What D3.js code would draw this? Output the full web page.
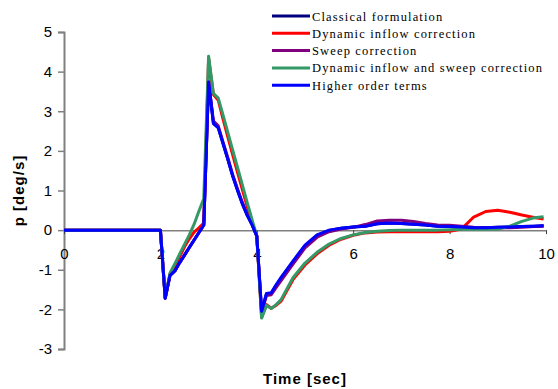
<!DOCTYPE html>
<html>
<head>
<meta charset="utf-8">
<script src="https://cdn.jsdelivr.net/npm/d3@7"></script>
<style>
  body { margin: 0; background: #fff; }
  svg { display: block; }
</style>
</head>
<body>
<svg id="chart" width="558" height="389"></svg>
<script>
// ---- data ----
const time = [0, 2.0, 2.1, 2.2, 2.3, 2.4, 2.5, 2.6, 2.7, 2.8, 2.9, 3.0, 3.1, 3.2, 3.3, 3.4, 3.5, 3.6, 3.7, 3.8, 3.9, 4.0, 4.1, 4.2, 4.3, 4.4, 4.5, 4.75, 5.0, 5.25, 5.5, 5.75, 6.0, 6.25, 6.5, 6.75, 7.0, 7.25, 7.5, 7.75, 8.0, 8.25, 8.5, 8.75, 9.0, 9.25, 9.5, 9.75, 9.95];

const classical = [0, 0, -1.72, -1.14, -1.03, -0.82, -0.63, -0.44, -0.25, -0.06, 0.13, 3.74, 2.7, 2.59, 2.19, 1.79, 1.37, 1.01, 0.67, 0.38, 0.14, -0.15, -2.05, -1.61, -1.59, -1.4, -1.22, -0.8, -0.4, -0.13, -0.01, 0.05, 0.08, 0.1, 0.16, 0.18, 0.17, 0.15, 0.13, 0.1, 0.09, 0.08, 0.06, 0.06, 0.07, 0.08, 0.09, 0.1, 0.11];
const dynInflow = [0, 0, -1.7, -1.1, -0.9, -0.67, -0.42, -0.22, -0.05, 0.06, 0.18, 4.33, 3.42, 3.28, 2.8, 2.35, 1.9, 1.46, 1.02, 0.6, 0.2, -0.15, -2.2, -1.88, -1.97, -1.9, -1.8, -1.25, -0.88, -0.6, -0.38, -0.23, -0.13, -0.07, -0.05, -0.04, -0.04, -0.04, -0.04, -0.04, -0.03, 0.03, 0.33, 0.47, 0.5, 0.45, 0.38, 0.32, 0.28];
const sweep = [0, 0, -1.72, -1.14, -1.03, -0.82, -0.63, -0.44, -0.25, -0.06, 0.13, 3.74, 2.75, 2.63, 2.22, 1.82, 1.4, 1.04, 0.7, 0.4, 0.16, -0.15, -2.08, -1.65, -1.63, -1.45, -1.28, -0.86, -0.45, -0.18, -0.04, 0.03, 0.07, 0.14, 0.23, 0.25, 0.25, 0.22, 0.17, 0.13, 0.12, 0.1, 0.07, 0.06, 0.06, 0.06, 0.07, 0.09, 0.1];
const dynSweep = [0, 0, -1.7, -1.08, -0.85, -0.6, -0.36, -0.12, 0.15, 0.48, 0.8, 4.39, 3.45, 3.33, 2.9, 2.46, 2.02, 1.58, 1.14, 0.7, 0.27, -0.15, -2.22, -1.9, -1.98, -1.88, -1.76, -1.2, -0.83, -0.56, -0.35, -0.21, -0.12, -0.06, -0.03, -0.01, 0, 0, 0, 0, 0.01, 0.02, 0.02, 0.02, 0.03, 0.1, 0.22, 0.31, 0.34];
const higherOrder = [0, 0, -1.72, -1.14, -1.03, -0.82, -0.63, -0.44, -0.25, -0.06, 0.13, 3.74, 2.69, 2.58, 2.18, 1.78, 1.36, 1.0, 0.66, 0.38, 0.14, -0.15, -2.05, -1.6, -1.58, -1.38, -1.2, -0.78, -0.38, -0.12, 0.0, 0.05, 0.08, 0.1, 0.16, 0.18, 0.17, 0.15, 0.13, 0.1, 0.09, 0.08, 0.06, 0.06, 0.07, 0.08, 0.09, 0.1, 0.11];

const seriesNames = ["Classical formulation", "Dynamic inflow correction", "Sweep correction", "Dynamic inflow and sweep correction", "Higher order terms"];
const seriesValues = [classical, dynInflow, sweep, dynSweep, higherOrder];
const seriesColors = ["#000080", "#FF0000", "#800080", "#339966", "#0000FF"];

const xTicks = [0, 2, 4, 6, 8, 10];
const yTicks = [-3, -2, -1, 0, 1, 2, 3, 4, 5];
const xTitle = "Time [sec]";
const yTitle = "p [deg/s]";

// ---- drawing ----
const svg = d3.select("#chart");
const x = d3.scaleLinear().domain([0, 10]).range([64, 546]);
const y = d3.scaleLinear().domain([-3, 5]).range([349, 32]);
const plain = d => String(d);

// y axis
const yAxis = svg.append("g")
  .attr("transform", `translate(${x(0)},0)`)
  .call(d3.axisLeft(y).tickValues(yTicks).tickSize(6).tickPadding(6).tickFormat(plain));
yAxis.select(".domain").attr("stroke", "#808080").attr("stroke-width", 2);
yAxis.selectAll(".tick line").attr("stroke", "#808080").attr("stroke-width", 1.5);
yAxis.selectAll(".tick text")
  .attr("font-family", "Liberation Sans, Arial, sans-serif")
  .attr("font-size", 15).attr("fill", "#000");

// x axis at y = 0
const xAxis = svg.append("g")
  .attr("transform", `translate(0,${y(0)})`)
  .call(d3.axisBottom(x).tickValues(xTicks).tickSize(4).tickSizeOuter(0).tickPadding(14).tickFormat(plain));
xAxis.select(".domain").attr("stroke", "#808080").attr("stroke-width", 1.5);
xAxis.selectAll(".tick line").attr("stroke", "#404040").attr("stroke-width", 1);
xAxis.selectAll(".tick text")
  .attr("font-family", "Liberation Sans, Arial, sans-serif")
  .attr("font-size", 15).attr("fill", "#000");

// lines
const line = d3.line().x((d, i) => x(time[i])).y(d => y(d));
seriesValues.forEach((vals, k) => {
  svg.append("path")
    .datum(vals)
    .attr("d", line)
    .attr("fill", "none")
    .attr("stroke", seriesColors[k])
    .attr("stroke-width", 3)
    .attr("stroke-linejoin", "round");
});

// axis titles
svg.append("text")
  .attr("x", x(5)).attr("y", 384)
  .attr("text-anchor", "middle")
  .attr("font-family", "Liberation Sans, Arial, sans-serif")
  .attr("font-weight", "bold").attr("font-size", 15)
  .attr("letter-spacing", 1)
  .text(xTitle);
svg.append("text")
  .attr("transform", `translate(24,${(y(-3) + y(5)) / 2}) rotate(-90)`)
  .attr("text-anchor", "middle")
  .attr("font-family", "Liberation Sans, Arial, sans-serif")
  .attr("font-weight", "bold").attr("font-size", 15)
  .attr("letter-spacing", 1)
  .text(yTitle);

// legend
const legend = svg.append("g");
seriesNames.forEach((name, k) => {
  const ly = 16 + k * 17.3;
  legend.append("line")
    .attr("x1", 272).attr("x2", 310).attr("y1", ly).attr("y2", ly)
    .attr("stroke", seriesColors[k]).attr("stroke-width", 3);
  legend.append("text")
    .attr("x", 312).attr("y", ly + 4.5)
    .attr("font-family", "Liberation Serif, Times New Roman, serif")
    .attr("font-size", 12.5)
    .attr("letter-spacing", 1.15)
    .text(name);
});
</script>
</body>
</html>
